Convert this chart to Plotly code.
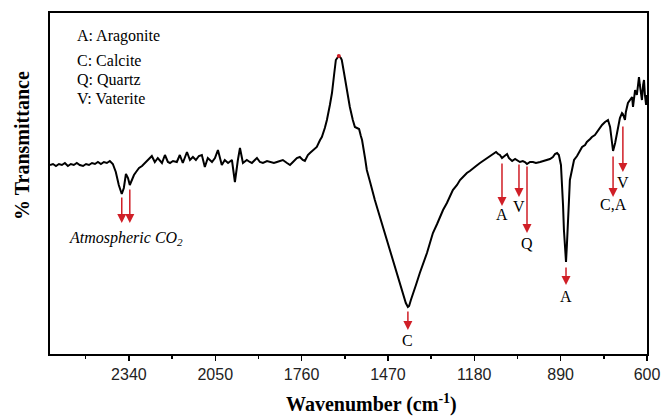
import plotly.graph_objects as go

# Spectrum (wavenumber in cm-1, transmittance in arbitrary units)
wavenumber = [
    2605, 2595, 2585, 2575, 2565, 2555, 2545, 2535, 2525, 2515, 2505, 2494, 2484, 2474, 2464,
    2454, 2444, 2434, 2424, 2414, 2404, 2394, 2384, 2374, 2364, 2357, 2350, 2343, 2337, 2330,
    2323, 2316, 2306, 2296, 2286, 2276, 2263, 2253, 2243, 2229, 2219, 2209, 2202, 2192, 2179,
    2169, 2159, 2145, 2135, 2125, 2115, 2105, 2095, 2085, 2075, 2061, 2051, 2041, 2028, 2018,
    2007, 1994, 1984, 1974, 1967, 1957, 1944, 1934, 1927, 1917, 1910, 1900, 1890, 1876, 1866,
    1853, 1843, 1833, 1823, 1809, 1799, 1789, 1776, 1766, 1756, 1749, 1739, 1732, 1722, 1709,
    1698, 1692, 1682, 1675, 1665, 1658, 1651, 1645, 1638, 1635, 1628, 1625, 1618, 1614, 1604,
    1598, 1588, 1581, 1574, 1567, 1561, 1557, 1547, 1541, 1530, 1524, 1514, 1504, 1494, 1483,
    1473, 1463, 1453, 1443, 1430, 1420, 1410, 1403, 1399, 1393, 1386, 1376, 1363, 1352, 1339,
    1329, 1319, 1305, 1295, 1285, 1272, 1262, 1252, 1238, 1228, 1218, 1205, 1195, 1184, 1174,
    1161, 1151, 1137, 1127, 1121, 1114, 1107, 1100, 1094, 1087, 1080, 1070, 1064, 1053, 1043,
    1037, 1027, 1017, 1010, 1003, 993, 983, 973, 959, 949, 936, 926, 916, 909, 902,
    896, 889, 886, 882, 879, 875, 872, 869, 865, 862, 859, 852, 845, 835, 825,
    818, 808, 802, 791, 785, 775, 768, 758, 751, 741, 734, 731, 724, 718, 714,
    707, 701, 694, 691, 684, 681, 674, 671, 664, 657, 650, 647, 640, 634, 627,
    624, 617, 613, 610, 607, 603, 600,
]
transmittance = [
    189, 190, 188, 190, 189, 191, 188, 190, 189, 191, 189, 188, 190, 189, 191,
    190, 192, 190, 192, 191, 193, 190, 182, 169, 160, 166, 180, 176, 169, 174,
    179, 182, 186, 188, 191, 194, 198, 192, 196, 191, 199, 192, 191, 193, 192,
    199, 191, 202, 194, 197, 194, 198, 199, 187, 196, 192, 196, 204, 189, 194,
    191, 194, 172, 194, 206, 191, 194, 192, 191, 194, 196, 192, 191, 193, 192,
    191, 192, 193, 194, 191, 189, 192, 196, 197, 194, 193, 199, 201, 204, 207,
    214, 217, 226, 234, 249, 261, 279, 294, 297, 298, 296, 294, 282, 274, 257,
    247, 234, 227, 226, 225, 218, 214, 196, 184, 172, 164, 154, 144, 134, 124,
    114, 104, 94, 84, 71, 61, 51, 47, 48, 54, 61, 69, 81, 90, 101,
    111, 121, 130, 138, 144, 151, 157, 164, 169, 174, 177, 181, 183, 186, 188,
    191, 193, 196, 198, 199, 201, 202, 200, 199, 196, 198, 200, 196, 193, 195,
    194, 192, 193, 192, 190, 192, 192, 191, 192, 193, 194, 195, 197, 200, 201,
    199, 189, 174, 149, 124, 104, 92, 109, 129, 154, 174, 186, 194, 198, 203,
    207, 209, 212, 215, 217, 219, 222, 226, 229, 232, 234, 234, 227, 212, 203,
    211, 221, 232, 236, 241, 240, 234, 242, 251, 254, 257, 247, 264, 259, 277,
    269, 254, 269, 274, 259, 249, 259,
]

# Band assignments marked with arrows
band_labels = ["", "", "C", "A", "V", "Q", "A", "C,A", "V"]
band_wavenumbers = [2364, 2337, 1403, 1087, 1030, 1003, 872, 714, 681]
arrow_tail = [158, 166, 44, 192, 191, 189, 88, 199, 229]
arrow_head = [131, 131, 24, 148, 157, 121, 69, 157, 182]
label_level = [None, None, 14, 140, 148, 111, 58, 150, 172]

legend_lines = ["A: Aragonite", "C: Calcite", "Q: Quartz", "V: Vaterite"]
legend_y = [0.933, 0.862, 0.804, 0.748]

x_ticks = [2340, 2050, 1760, 1470, 1180, 890, 600]
x_minor = [2485, 2195, 1905, 1615, 1325, 1035, 745]

RED = "#d01f27"
SERIF = "Liberation Serif"

fig = go.Figure()
fig.add_trace(go.Scatter(
    x=wavenumber, y=transmittance, mode="lines",
    line=dict(color="black", width=2), showlegend=False, hoverinfo="skip",
))
# small red mark at the top of the 1635 band
fig.add_trace(go.Scatter(
    x=[wavenumber[transmittance.index(max(transmittance))]], y=[max(transmittance)],
    mode="markers", marker=dict(color=RED, size=4), showlegend=False, hoverinfo="skip",
))

annotations = []
for lab, w, t0, t1, ly in zip(band_labels, band_wavenumbers, arrow_tail, arrow_head, label_level):
    annotations.append(dict(
        x=w, y=t1, ax=w, ay=t0, xref="x", yref="y", axref="x", ayref="y",
        text="", showarrow=True, arrowhead=2, arrowsize=1.2, arrowwidth=1.5,
        arrowcolor=RED, standoff=0, startstandoff=0,
    ))
    if lab:
        annotations.append(dict(
            x=w, y=ly, xref="x", yref="y", text=lab, showarrow=False,
            font=dict(family=SERIF, size=16, color="black"),
            xanchor="center", yanchor="middle",
        ))

for line, yy in zip(legend_lines, legend_y):
    annotations.append(dict(
        x=0.042, y=yy, xref="paper", yref="paper", text=line, showarrow=False,
        font=dict(family=SERIF, size=16, color="black"), xanchor="left", yanchor="middle",
    ))

annotations.append(dict(
    x=0.028, y=0.34, xref="paper", yref="paper",
    text="<i>Atmospheric CO<sub>2</sub></i>", showarrow=False,
    font=dict(family=SERIF, size=16, color="black"), xanchor="left", yanchor="middle",
))
annotations.append(dict(
    x=0.539, y=-0.144, xref="paper", yref="paper",
    text="<b>Wavenumber (cm<sup>-1</sup>)</b>", showarrow=False,
    font=dict(family=SERIF, size=20, color="black"), xanchor="center", yanchor="middle",
))
annotations.append(dict(
    x=-0.047, y=0.613, xref="paper", yref="paper",
    text="<b>% Transmittance</b>", showarrow=False, textangle=-90,
    font=dict(family=SERIF, size=20, color="black"), xanchor="center", yanchor="middle",
))

fig.update_layout(
    width=662, height=417,
    margin=dict(l=50, r=15, t=13, b=63),
    paper_bgcolor="white", plot_bgcolor="white",
    annotations=annotations,
    xaxis=dict(
        range=[2605, 600], tickmode="array", tickvals=x_ticks,
        ticktext=[str(v) for v in x_ticks],
        ticks="outside", ticklen=5, tickwidth=1.5, tickcolor="black",
        showline=True, linewidth=2, linecolor="black", mirror=True,
        showgrid=False, zeroline=False, automargin=False,
        tickfont=dict(family="Liberation Sans", size=16, color="#222"),
        minor=dict(tickmode="array", tickvals=x_minor, ticks="outside",
                   ticklen=3, tickwidth=1.5, tickcolor="black", showgrid=False),
    ),
    yaxis=dict(
        range=[0, 341], showticklabels=False, ticks="",
        showline=True, linewidth=2, linecolor="black", mirror=True,
        showgrid=False, zeroline=False, automargin=False,
    ),
)

fig.write_html(
    "out.html",
    config={"displayModeBar": False, "staticPlot": True},
    post_script="document.body.style.margin='0';document.body.style.overflow='hidden';",
)
